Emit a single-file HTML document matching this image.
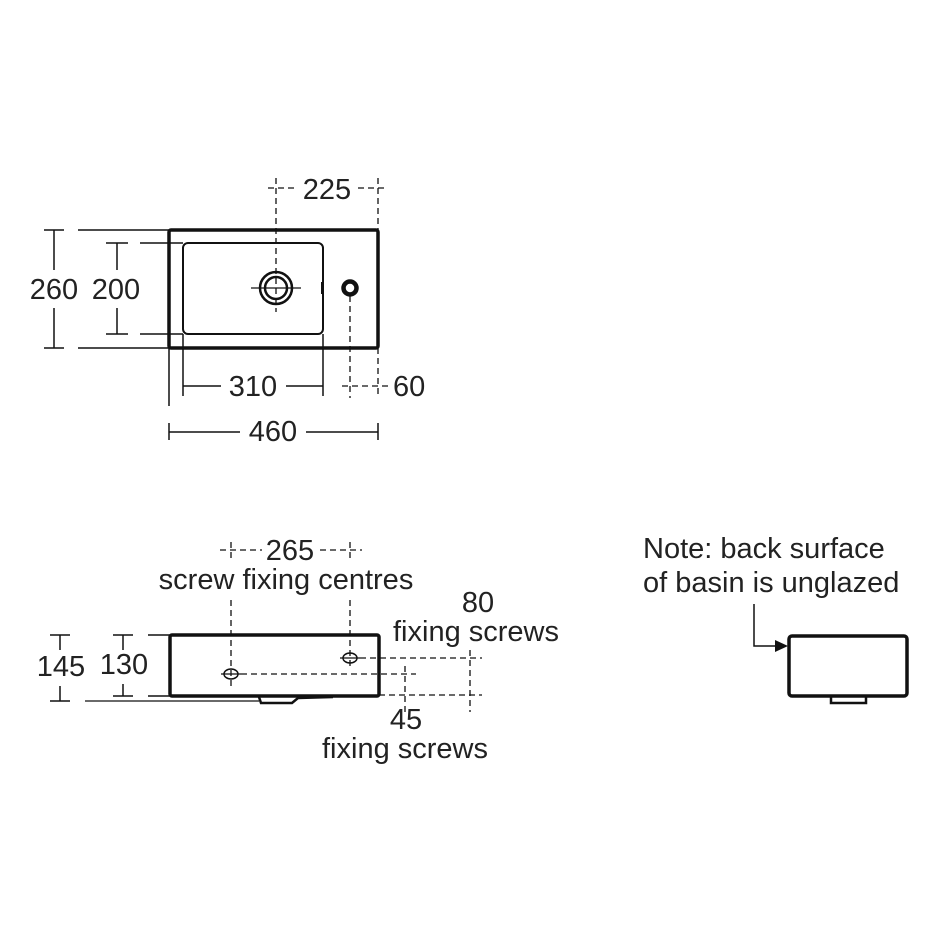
<!DOCTYPE html>
<html><head><style>
html,body{margin:0;padding:0;background:#fff;}
svg{display:block;}
text{font-family:"Liberation Sans",Arial,sans-serif;fill:#222;font-size:29px;}
</style></head><body>
<svg width="940" height="940" viewBox="0 0 940 940" xmlns="http://www.w3.org/2000/svg">
<g stroke="#111" fill="none">
<rect x="169" y="230" width="209" height="118" rx="2" stroke-width="3.5"/>
<rect x="183" y="243" width="140" height="91" rx="5" stroke-width="2"/>
<circle cx="276" cy="288" r="16" stroke-width="2.5"/>
<circle cx="276" cy="288" r="11" stroke-width="2.5"/>
<line x1="251" y1="288" x2="301" y2="288" stroke-width="1.3"/>
<circle cx="350" cy="288" r="6.5" stroke-width="4.5"/>
<line x1="322" y1="282" x2="322" y2="294" stroke-width="2"/>
<g stroke-width="1.3" stroke-dasharray="6,4">
<line x1="276" y1="178" x2="276" y2="312"/>
<line x1="378" y1="178" x2="378" y2="230"/>
<line x1="378" y1="348" x2="378" y2="398"/>
<line x1="350" y1="296" x2="350" y2="398"/>
<line x1="268" y1="188" x2="298" y2="188"/>
<line x1="358" y1="188" x2="386" y2="188"/>
<line x1="342" y1="386" x2="390" y2="386"/>
</g>
<g stroke-width="1.5">
<line x1="54" y1="230" x2="54" y2="270"/><line x1="54" y1="308" x2="54" y2="348"/>
<line x1="44" y1="230" x2="64" y2="230"/><line x1="44" y1="348" x2="64" y2="348"/>
<line x1="78" y1="230" x2="169" y2="230"/><line x1="78" y1="348" x2="169" y2="348"/>
<line x1="117" y1="243" x2="117" y2="270"/><line x1="117" y1="308" x2="117" y2="334"/>
<line x1="106" y1="243" x2="128" y2="243"/><line x1="106" y1="334" x2="128" y2="334"/>
<line x1="140" y1="243" x2="183" y2="243"/><line x1="140" y1="334" x2="183" y2="334"/>
<line x1="183" y1="334" x2="183" y2="396"/><line x1="323" y1="334" x2="323" y2="396"/>
<line x1="183" y1="386" x2="221" y2="386"/><line x1="286" y1="386" x2="323" y2="386"/>
<line x1="169" y1="348" x2="169" y2="406"/>
<line x1="169" y1="423" x2="169" y2="440"/><line x1="378" y1="423" x2="378" y2="440"/>
<line x1="169" y1="432" x2="240" y2="432"/><line x1="306" y1="432" x2="378" y2="432"/>
</g>

<rect x="170" y="635" width="209" height="61" rx="2" stroke-width="3.5"/>
<path d="M259 697 L261 703 L292 703 L298 698 L333 697" stroke-width="2.5"/>
<line x1="85" y1="701" x2="259" y2="701" stroke-width="1.3"/>
<ellipse cx="231" cy="674" rx="7" ry="5" stroke-width="1.5"/>
<ellipse cx="350" cy="658" rx="7" ry="5" stroke-width="1.5"/>
<line x1="221" y1="674" x2="241" y2="674" stroke-width="1.3"/>
<line x1="340" y1="658" x2="360" y2="658" stroke-width="1.3"/>
<g stroke-width="1.3" stroke-dasharray="6,4">
<line x1="231" y1="542" x2="231" y2="560"/><line x1="231" y1="600" x2="231" y2="686"/>
<line x1="350" y1="542" x2="350" y2="560"/><line x1="350" y1="600" x2="350" y2="670"/>
<line x1="220" y1="550" x2="262" y2="550"/><line x1="320" y1="550" x2="362" y2="550"/>
<line x1="360" y1="658" x2="482" y2="658"/>
<line x1="241" y1="674" x2="416" y2="674"/>
<line x1="379" y1="695" x2="482" y2="695"/>
<line x1="470" y1="650" x2="470" y2="712"/>
<line x1="405" y1="666" x2="405" y2="712"/>
</g>
<g stroke-width="1.5">
<line x1="60" y1="635" x2="60" y2="650"/><line x1="60" y1="686" x2="60" y2="701"/>
<line x1="50" y1="635" x2="70" y2="635"/><line x1="50" y1="701" x2="70" y2="701"/>
<line x1="123" y1="635" x2="123" y2="650"/><line x1="123" y1="684" x2="123" y2="696"/>
<line x1="113" y1="635" x2="133" y2="635"/><line x1="113" y1="696" x2="133" y2="696"/>
<line x1="148" y1="635" x2="170" y2="635"/><line x1="148" y1="696" x2="170" y2="696"/>
</g>

<rect x="789" y="636" width="118" height="60" rx="3" stroke-width="3.5"/>
<path d="M831 697 L831 703 L866 703 L866 697" stroke-width="2.5"/>
<path d="M754 604 L754 646 L778 646" stroke-width="1.5"/>
</g>
<path d="M788 646 L775 640 L775 652 Z" fill="#111"/>

<text x="327" y="199" text-anchor="middle">225</text>
<text x="54" y="299" text-anchor="middle">260</text>
<text x="116" y="299" text-anchor="middle">200</text>
<text x="253" y="396" text-anchor="middle">310</text>
<text x="393" y="396">60</text>
<text x="273" y="441" text-anchor="middle">460</text>

<text x="290" y="560" text-anchor="middle">265</text>
<text x="286" y="589" text-anchor="middle">screw fixing centres</text>
<text x="478" y="612" text-anchor="middle">80</text>
<text x="476" y="641" text-anchor="middle">fixing screws</text>
<text x="61" y="676" text-anchor="middle">145</text>
<text x="124" y="674" text-anchor="middle">130</text>
<text x="406" y="729" text-anchor="middle">45</text>
<text x="405" y="758" text-anchor="middle">fixing screws</text>

<text x="643" y="558">Note: back surface</text>
<text x="643" y="592">of basin is unglazed</text>
</svg>
</body></html>
